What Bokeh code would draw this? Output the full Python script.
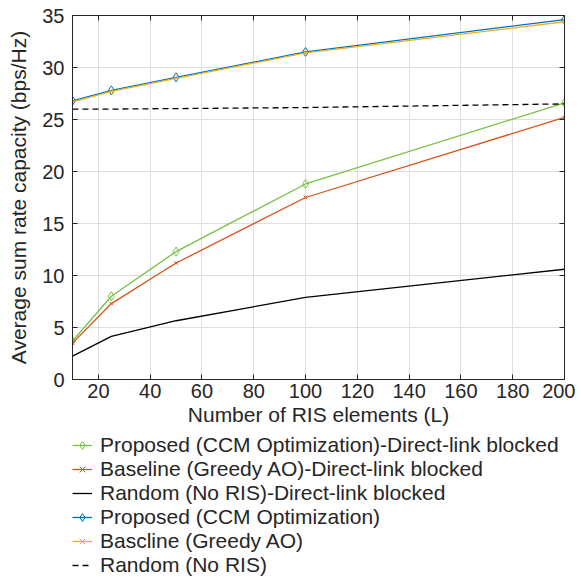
from bokeh.plotting import figure
from bokeh.models import LinearAxis, Legend, LegendItem, FixedTicker, Range1d
from bokeh.layouts import column
from bokeh.embed import file_html
from bokeh.resources import INLINE

L = [10, 25, 50, 100, 200]
proposed_blocked = [3.7, 8.0, 12.3, 18.8, 26.6]
baseline_blocked = [3.5, 7.3, 11.2, 17.5, 25.2]
random_blocked = [2.25, 4.15, 5.65, 7.9, 10.6]
proposed = [26.8, 27.8, 29.05, 31.5, 34.6]
baseline = [26.7, 27.7, 28.95, 31.4, 34.4]
random_ris = [26.0, 26.0, 26.05, 26.15, 26.5]

labels = ["Proposed (CCM Optimization)-Direct-link blocked",
          "Baseline (Greedy AO)-Direct-link blocked",
          "Random (No RIS)-Direct-link blocked",
          "Proposed (CCM Optimization)",
          "Bascline (Greedy AO)",
          "Random (No RIS)"]

x_ticks = [20, 40, 60, 80, 100, 120, 140, 160, 180, 200]
y_ticks = [0, 5, 10, 15, 20, 25, 30, 35]

FONT = "Liberation Sans"
TXT = "#262626"
GREEN = "#77c043"
RED = "#d95319"
BLUE = "#0072bd"
ORANGE = "#edb120"

p = figure(width=575, height=433, output_backend="svg", toolbar_location=None,
           x_range=Range1d(10, 200), y_range=Range1d(0, 35),
           min_border_left=72, min_border_right=11, min_border_top=15, min_border_bottom=54)
p.outline_line_color = TXT
p.outline_line_width = 1

p.xaxis.axis_label = "Number of RIS elements (L)"
p.yaxis.axis_label = "Average sum rate capacity (bps/Hz)"
for ax in (p.xaxis[0], p.yaxis[0]):
    ax.axis_label_text_font = FONT
    ax.axis_label_text_font_size = "21px"
    ax.axis_label_text_font_style = "normal"
    ax.axis_label_text_color = TXT
    ax.major_label_text_font = FONT
    ax.major_label_text_font_size = "20px"
    ax.major_label_text_color = TXT
    ax.major_tick_in = 5
    ax.major_tick_out = 0
    ax.minor_tick_in = 0
    ax.minor_tick_out = 0
    ax.axis_line_color = TXT
    ax.major_tick_line_color = TXT
p.xaxis.ticker = FixedTicker(ticks=x_ticks)
p.yaxis.ticker = FixedTicker(ticks=y_ticks)
p.xaxis.axis_label_standoff = 2
p.yaxis.axis_label_standoff = 9
p.xaxis.major_label_standoff = 4
p.yaxis.major_label_standoff = 8

for side, ticks in (("right", y_ticks), ("above", x_ticks)):
    a = LinearAxis(ticker=FixedTicker(ticks=ticks))
    a.major_label_text_font_size = "0px"
    a.major_label_text_color = None
    a.major_tick_in = 5
    a.major_tick_out = 0
    a.minor_tick_in = 0
    a.minor_tick_out = 0
    a.axis_line_color = TXT
    a.major_tick_line_color = TXT
    a.major_label_standoff = 0
    p.add_layout(a, side)

p.xgrid.ticker = FixedTicker(ticks=x_ticks)
p.ygrid.ticker = FixedTicker(ticks=y_ticks)
p.grid.grid_line_color = "#dfdfdf"
p.grid.grid_line_width = 1

series = [
    (proposed_blocked, GREEN, "diamond", None),
    (baseline_blocked, RED, "x", None),
    (random_blocked, "black", None, None),
    (proposed, BLUE, "diamond", None),
    (baseline, ORANGE, "x", None),
    (random_ris, "black", None, "6 4"),
]

# legend-only figure below the chart (its glyphs sit outside its visible range)
q = figure(width=575, height=144, output_backend="svg", toolbar_location=None,
           x_range=Range1d(0, 1), y_range=Range1d(0, 1),
           x_axis_type=None, y_axis_type=None,
           min_border_left=69, min_border_right=0, min_border_top=0, min_border_bottom=0)
q.outline_line_color = None
q.grid.visible = False

hidden_x = [-5, -4]
hidden_y = [-5, -4]

items = []
for (vals, col, mk, dash), lab in zip(series, labels):
    kw = dict(line_color=col, line_width=1.3)
    if dash:
        kw["line_dash"] = dash
    p.line(L, vals, **kw)
    rs = [q.line(hidden_x, hidden_y, **kw)]
    if mk == "diamond":
        p.scatter(L, vals, marker="diamond", size=9, line_color=col, fill_color=None, line_width=1)
        rs.append(q.scatter(hidden_x, hidden_y, marker="diamond", size=9, line_color=col, fill_color=None, line_width=1))
    elif mk == "x":
        p.scatter(L, vals, marker="x", size=5, line_color=col, line_width=1)
        rs.append(q.scatter(hidden_x, hidden_y, marker="x", size=5, line_color=col, line_width=1))
    items.append(LegendItem(label=lab, renderers=rs))

legend = Legend(items=items, location="top_left", orientation="vertical")
legend.label_text_font = FONT
legend.label_text_font_size = "21px"
legend.label_text_line_height = 1.0
legend.label_text_color = TXT
legend.label_height = 24
legend.glyph_height = 24
legend.glyph_width = 20
legend.label_standoff = 8
legend.spacing = 0
legend.padding = 0
legend.margin = 0
legend.border_line_color = None
legend.background_fill_alpha = 0
q.add_layout(legend, "center")

layout = column(p, q, spacing=0)
open("out.html", "w").write(file_html(layout, INLINE))
